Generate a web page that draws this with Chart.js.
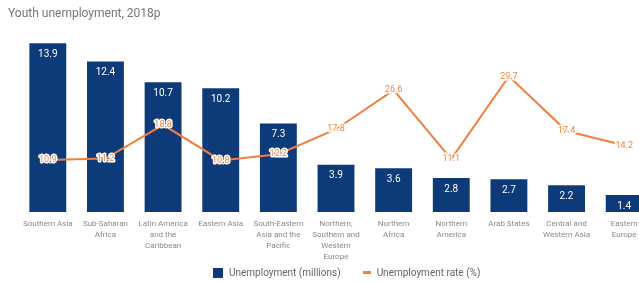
<!DOCTYPE html>
<html>
<head>
<meta charset="utf-8">
<script src="https://cdn.jsdelivr.net/npm/chart.js@4"></script>
<style>
  html, body { margin: 0; padding: 0; background: #fff; overflow: hidden; }
  #wrap { position: relative; width: 660px; height: 283px; }
  #title {
    position: absolute; left: 8px; top: 6px;
    font: 12px Roboto, sans-serif; color: #777;
  }
  #legend {
    position: absolute; left: 213px; top: 267px;
    font: 10px Roboto, sans-serif; color: #666;
    display: flex; align-items: center; white-space: nowrap;
  }
  .sq { width: 10px; height: 10px; background: #0d3b7a; margin-right: 6px; }
  .ln { width: 8px; height: 3px; background: #f07f3f; margin: 0 6px 0 22px; }
</style>
</head>
<body>
<div id="wrap">
  <canvas id="chart" width="660" height="283"></canvas>
  <div id="title">Youth unemployment, 2018p</div>
  <div id="legend">
    <span class="sq"></span><span>Unemployment (millions)</span>
    <span class="ln"></span><span>Unemployment rate (%)</span>
  </div>
</div>
<script>
// Regions (x axis)
const regions = [
  ["Southern Asia"],
  ["Sub-Saharan", "Africa"],
  ["Latin America", "and the", "Caribbean"],
  ["Eastern Asia"],
  ["South-Eastern", "Asia and the", "Pacific"],
  ["Northern,", "Southern and", "Western", "Europe"],
  ["Northern", "Africa"],
  ["Northern", "America"],
  ["Arab States"],
  ["Central and", "Western Asia"],
  ["Eastern", "Europe"],
];

// Youth unemployment, millions
const unemployment = [13.9, 12.4, 10.7, 10.2, 7.3, 3.9, 3.6, 2.8, 2.7, 2.2, 1.4];

// Youth unemployment rate, %
const unemploymentRate = [10.9, 11.2, 18.8, 10.8, 12.2, 17.8, 26.6, 11.1, 29.7, 17.4, 14.2];

const BAR_COLOR = "#0d3b7a";
const LINE_COLOR = "#f07f3f";
const LABEL_ORANGE = "#ef8647";

// Draw value labels on bars and line points
const valueLabels = {
  id: "valueLabels",
  afterDatasetsDraw(chart) {
    const ctx = chart.ctx;
    ctx.save();
    ctx.textAlign = "center";
    ctx.textBaseline = "middle";

    // bar labels
    ctx.font = "10px Roboto, sans-serif";
    ctx.fillStyle = "#ffffff";
    chart.getDatasetMeta(0).data.forEach((bar, i) => {
      ctx.fillText(unemployment[i].toFixed(1), bar.x, bar.y + 11);
    });

    // line labels with white halo
    ctx.font = "9px Roboto, sans-serif";
    ctx.lineJoin = "round";
    chart.getDatasetMeta(1).data.forEach((pt, i) => {
      const txt = unemploymentRate[i].toFixed(1);
      ctx.strokeStyle = "#ffffff";
      ctx.lineWidth = 3;
      ctx.strokeText(txt, pt.x, pt.y);
      ctx.fillStyle = LABEL_ORANGE;
      ctx.fillText(txt, pt.x, pt.y);
    });
    ctx.restore();
  },
};

const ctx = document.getElementById("chart");
new Chart(ctx, {
  data: {
    labels: regions,
    datasets: [
      {
        type: "bar",
        label: "Unemployment (millions)",
        data: unemployment,
        backgroundColor: BAR_COLOR,
        barPercentage: 0.64,
        categoryPercentage: 1,
        yAxisID: "y",
        order: 2,
      },
      {
        type: "line",
        label: "Unemployment rate (%)",
        data: unemploymentRate,
        borderColor: LINE_COLOR,
        borderWidth: 2,
        pointRadius: 0,
        tension: 0,
        fill: false,
        yAxisID: "y1",
        order: 1,
      },
    ],
  },
  options: {
    responsive: false,
    animation: false,
    layout: {
      padding: { left: 19, right: 7, top: 30, bottom: 15 },
    },
    plugins: {
      legend: { display: false },
      title: { display: false },
      tooltip: { enabled: false },
    },
    scales: {
      x: {
        grid: { display: false, drawTicks: false },
        border: { display: false },
        ticks: {
          color: "#8a8a8a",
          font: { family: "Roboto, sans-serif", size: 8, lineHeight: 1.375 },
          padding: 6,
          maxRotation: 0,
          minRotation: 0,
          autoSkip: false,
        },
      },
      y: {
        display: false,
        min: 0,
        max: 15,
      },
      y1: {
        display: false,
        min: -0.8,
        max: 40.1,
      },
    },
  },
  plugins: [valueLabels],
});
</script>
</body>
</html>
